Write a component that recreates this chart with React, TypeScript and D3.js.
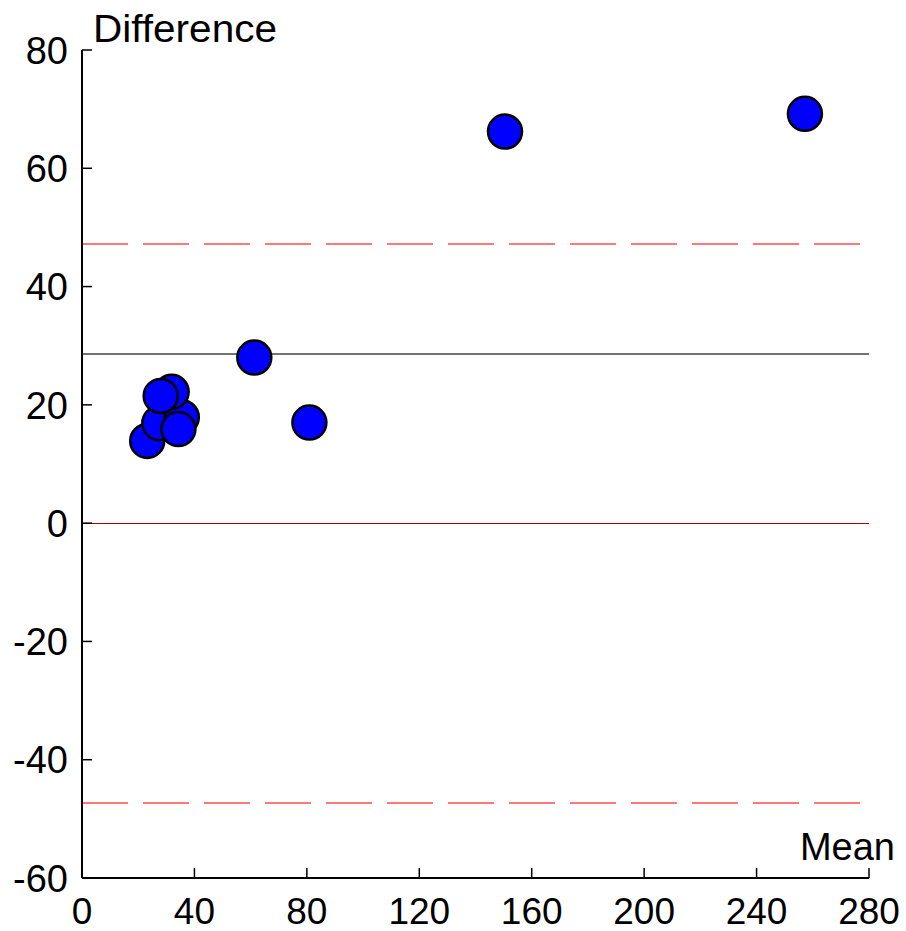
import React from "react";
import * as d3 from "d3";

// Bland-Altman style data
const meanValues = [23.2, 27.5, 35.5, 31.9, 28.0, 34.3, 61.3, 80.9, 150.5, 257.2];
const diffValues = [13.9, 16.9, 17.9, 22.2, 21.5, 15.9, 28.0, 17.0, 66.2, 69.2];
const xTicks = [0, 40, 80, 120, 160, 200, 240, 280];
const yTicks = [-60, -40, -20, 0, 20, 40, 60, 80];
const meanDiff = 28.6;
const upperLimit = 47.2;
const lowerLimit = -47.3;

const W = 906, H = 931;
const margin = { top: 50, right: 37, bottom: 53, left: 82 };
const font = "'Liberation Sans', Arial, sans-serif";

export default function App() {
  const x = d3.scaleLinear().domain([0, 280]).range([margin.left, W - margin.right]);
  const y = d3.scaleLinear().domain([-60, 80]).range([H - margin.bottom, margin.top]);
  const x0 = x(0), x1 = x(280);
  const yb = y(-60);

  const points = meanValues.map((m, i) => ({ m, d: diffValues[i] }));

  return (
    <svg width={W} height={H} style={{ position: "absolute", left: 0, top: 0, background: "#fff" }}>
      {/* reference lines */}
      <line x1={x0} x2={x1} y1={Math.round(y(0)) + 0.5} y2={Math.round(y(0)) + 0.5} stroke="#b00000" strokeWidth={1.2} />
      <line x1={x0} x2={x1} y1={y(meanDiff)} y2={y(meanDiff)} stroke="#444" strokeWidth={1.5} />
      <line x1={x0} x2={x1} y1={y(upperLimit)} y2={y(upperLimit)} stroke="#ff4d4d" strokeWidth={1.5} strokeDasharray="46 15" />
      <line x1={x0} x2={x1} y1={y(lowerLimit)} y2={y(lowerLimit)} stroke="#ff4d4d" strokeWidth={1.5} strokeDasharray="46 15" />

      {/* axes */}
      <line x1={x0} x2={x0} y1={y(80)} y2={yb} stroke="#000" strokeWidth={2} />
      <line x1={x0} x2={x1} y1={yb} y2={yb} stroke="#000" strokeWidth={2} />
      {yTicks.map(t => (
        <g key={"y" + t}>
          <line x1={x0} x2={x0 + 10} y1={y(t)} y2={y(t)} stroke="#000" strokeWidth={1.5} />
          <text x={68} y={y(t)} dy="0.36em" textAnchor="end" fontFamily={font} fontSize={38} fill="#000">{t}</text>
        </g>
      ))}
      {xTicks.map(t => (
        <g key={"x" + t}>
          <line x1={x(t)} x2={x(t)} y1={yb} y2={yb - 10} stroke="#000" strokeWidth={1.5} />
          <text x={x(t)} y={924} textAnchor="middle" fontFamily={font} fontSize={37} fill="#000">{t}</text>
        </g>
      ))}
      <text x={93} y={42} fontFamily={font} fontSize={38} textLength={184} lengthAdjust="spacingAndGlyphs" fill="#000">Difference</text>
      <text x={895} y={860} textAnchor="end" fontFamily={font} fontSize={38} fill="#000">Mean</text>

      {/* points */}
      {points.map((p, i) => (
        <circle key={i} cx={x(p.m)} cy={y(p.d)} r={17} fill="#0000ff" stroke="#000" strokeWidth={2.5} />
      ))}
    </svg>
  );
}
